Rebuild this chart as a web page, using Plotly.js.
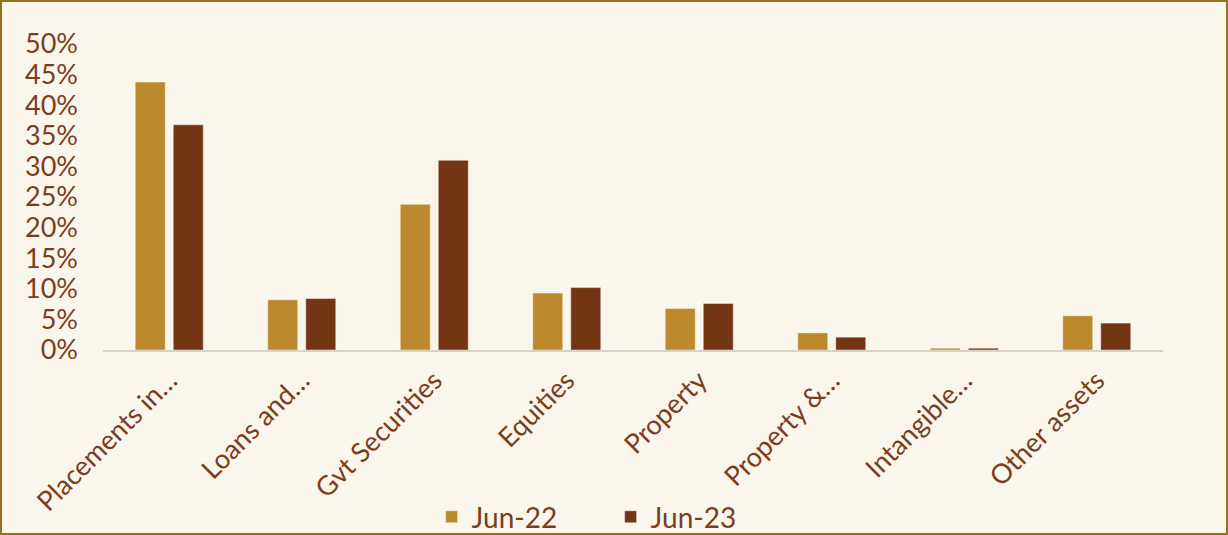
<!DOCTYPE html>
<html>
<head>
<meta charset="utf-8">
<script src="https://cdn.plot.ly/plotly-3.0.1.min.js"></script>
<style>
  html, body { margin: 0; padding: 0; background: #FBF6EB; }
  #wrap { width: 1228px; height: 535px; box-sizing: border-box; border: 2px solid #957118; background: #FBF6EB; }
  #chart { width: 1224px; height: 531px; }
</style>
</head>
<body>
<div id="wrap"><div id="chart"></div></div>
<script>
const categories = ["Placements in…", "Loans and…", "Gvt Securities", "Equities", "Property", "Property &…", "Intangible…", "Other assets"];
const jun22 = [0.438, 0.082, 0.238, 0.093, 0.068, 0.028, 0.003, 0.056];
const jun23 = [0.368, 0.084, 0.310, 0.102, 0.076, 0.021, 0.003, 0.044];
const yTicks = [0, 0.05, 0.10, 0.15, 0.20, 0.25, 0.30, 0.35, 0.40, 0.45, 0.50];
const yTickText = ["0%", "5%", "10%", "15%", "20%", "25%", "30%", "35%", "40%", "45%", "50%"];

const textColor = "#7A3E1F";
const fontFam = "Lato, 'Open Sans', sans-serif";

const traces = [
  { type: "bar", name: "Jun-22", x: categories, y: jun22,
    marker: { color: "#BC8A2C", line: { color: "rgba(255,255,255,0.45)", width: 1 } } },
  { type: "bar", name: "Jun-23", x: categories, y: jun23,
    marker: { color: "#743514", line: { color: "rgba(255,255,255,0.45)", width: 1 } } }
];

const layout = {
  width: 1224, height: 531,
  paper_bgcolor: "#FBF6EB", plot_bgcolor: "#FBF6EB",
  margin: { l: 101, r: 63, t: 42, b: 183, autoexpand: false },
  barmode: "group", bargap: 0.426, bargroupgap: 0.21,
  font: { family: fontFam, color: textColor, size: 28 },
  xaxis: {
    automargin: false,
    tickangle: -45, showgrid: false, zeroline: false,
    showline: true, linecolor: "#D8D3C6", linewidth: 2,
    ticks: "", ticklabelstandoff: 2, tickfont: { size: 27, color: textColor }
  },
  yaxis: {
    automargin: false,
    range: [0, 0.5], tickvals: yTicks, ticktext: yTickText,
    showgrid: false, zeroline: false, showline: false,
    ticks: "", ticklabelstandoff: 24,
    tickfont: { size: 27, color: textColor }
  },
  showlegend: true,
  legend: {
    orientation: "h", x: 0.31, xanchor: "left", y: -0.546, yanchor: "middle",
    font: { size: 28, color: textColor }, bgcolor: "rgba(0,0,0,0)",
    entrywidth: 134, entrywidthmode: "pixels"
  }
};

Plotly.newPlot("chart", traces, layout, { displayModeBar: false, staticPlot: true });
</script>
</body>
</html>
